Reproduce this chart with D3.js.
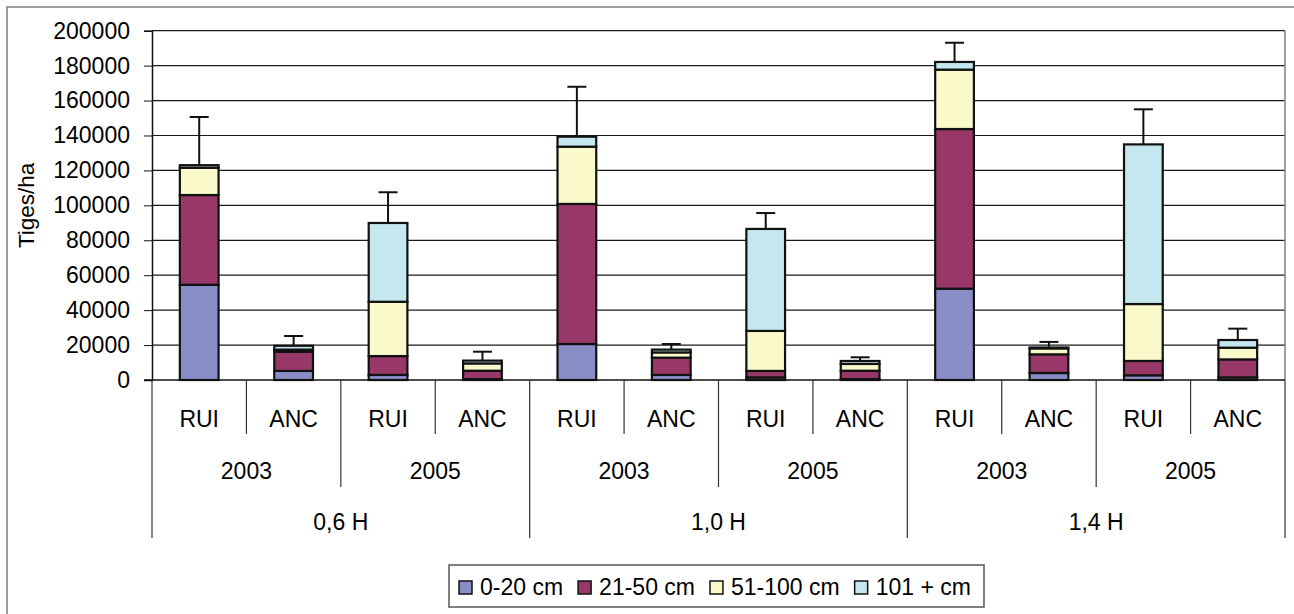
<!DOCTYPE html>
<html>
  <head>
    <meta charset="UTF-8">
    <title>Tiges/ha</title>
    <script src="https://d3js.org/d3.v7.min.js"></script>
    <style>
      body { margin: 0; background: #fff; }
      text { font-family: "Liberation Sans", Arial, sans-serif; fill: #000; }
    </style>
  </head>

  <body>
    <div class="chart"></div>

    <script type="application/javascript">
      // data
      const groups = ["0,6 H", "1,0 H", "1,4 H"];
      const years = ["2003", "2005"];
      const types = ["RUI", "ANC"];
      const seriesNames = ["0-20 cm", "21-50 cm", "51-100 cm", "101 + cm"];
      const s0_20   = [54500,  5200,  2900,  500, 20600, 2900,  1500,  500, 52300,  4000,  2700,  1500];
      const s21_50  = [51400, 11000, 10800, 4800, 80200, 9900,  3700, 4800, 91400, 10700,  8200, 10300];
      const s51_100 = [15600,  1200, 31100, 4200, 32800, 3000, 22900, 3900, 34000,  3400, 32600,  6700];
      const s101    = [ 1500,  2200, 45100, 1600,  5700, 1600, 58400, 1700,  4400,   500, 91400,  4400];
      const errors  = [27600,  5600, 17600, 5100, 28600, 3200,  9100, 2100, 11000,  3200, 20100,  6500];
      const yTicks = [0, 20000, 40000, 60000, 80000, 100000, 120000, 140000, 160000, 180000, 200000];
      const colors = ["#8a8ec6", "#973868", "#faf9ca", "#c4e7f0"];

      const W = 1294, H = 614;
      const plotL = 152, plotR = 1285, plotT = 30.7, plotB = 380;
      const fs = "23px";

      // one category per bar, built from the three levels
      const categories = [];
      groups.forEach(g => years.forEach(yr => types.forEach(t => categories.push({g, yr, t}))));
      const catIdx = categories.map((d, i) => i);

      const svg = d3.select(".chart").append("svg")
              .attr("width", W)
              .attr("height", H);

      // outer frame
      svg.append("rect")
              .attr("x", 7).attr("y", 7)
              .attr("width", 1300).attr("height", 640)
              .attr("fill", "none")
              .attr("stroke", "#808080")
              .attr("stroke-width", 1.5);

      const x = d3.scaleBand().domain(catIdx).range([plotL, plotR]).padding(0);
      const y = d3.scaleLinear().domain([0, 200000]).range([plotB, plotT]);
      const barW = x.bandwidth() * 0.41;

      // gridlines
      svg.append("g")
              .selectAll("line")
              .data(yTicks.slice(1))
              .join("line")
              .attr("x1", plotL).attr("x2", plotR)
              .attr("y1", d => y(d)).attr("y2", d => y(d))
              .attr("stroke", "#1a1a1a")
              .attr("stroke-width", 1.2);

      // plot border right side
      svg.append("line")
              .attr("x1", plotR).attr("x2", plotR)
              .attr("y1", plotT).attr("y2", plotB)
              .attr("stroke", "#808080")
              .attr("stroke-width", 1.5);

      // stacked bars
      const table = catIdx.map(i => ({i, a: s0_20[i], b: s21_50[i], c: s51_100[i], d: s101[i]}));
      const stack = d3.stack().keys(["a", "b", "c", "d"])(table);

      // error bars (drawn under the bars)
      const errG = svg.append("g");
      catIdx.forEach(i => {
        const total = s0_20[i] + s21_50[i] + s51_100[i] + s101[i];
        const cx = x(i) + x.bandwidth() / 2;
        errG.append("line")
                .attr("x1", cx).attr("x2", cx)
                .attr("y1", y(total)).attr("y2", y(total + errors[i]))
                .attr("stroke", "#111").attr("stroke-width", 2);
        errG.append("line")
                .attr("x1", cx - 9.5).attr("x2", cx + 9.5)
                .attr("y1", y(total + errors[i])).attr("y2", y(total + errors[i]))
                .attr("stroke", "#111").attr("stroke-width", 2);
      });

      svg.append("g")
              .selectAll("g")
              .data(stack)
              .join("g")
              .attr("fill", (d, k) => colors[k])
              .selectAll("rect")
              .data(d => d)
              .join("rect")
              .attr("x", d => x(d.data.i) + (x.bandwidth() - barW) / 2)
              .attr("width", barW)
              .attr("y", d => y(d[1]))
              .attr("height", d => y(d[0]) - y(d[1]))
              .attr("stroke", "#111")
              .attr("stroke-width", 2.2);

      // y axis
      const yAxis = d3.axisLeft(y)
              .tickValues(yTicks)
              .tickFormat(d3.format("d"))
              .tickSize(8)
              .tickPadding(14);
      const yG = svg.append("g")
              .attr("transform", `translate(${plotL},0)`)
              .call(yAxis);
      yG.select(".domain").attr("stroke", "#111").attr("stroke-width", 1.5);
      yG.selectAll(".tick line").attr("stroke", "#111");
      yG.selectAll(".tick text")
              .style("font-size", fs)
              .attr("font-family", null);

      svg.append("text")
              .attr("transform", `translate(34,${(plotT + plotB) / 2}) rotate(-90)`)
              .attr("text-anchor", "middle")
              .style("font-size", "22.5px")
              .text("Tiges/ha");

      // x axis: baseline and multi-level labels
      svg.append("line")
              .attr("x1", plotL - 8).attr("x2", plotR)
              .attr("y1", plotB).attr("y2", plotB)
              .attr("stroke", "#111").attr("stroke-width", 1.5);

      const xG = svg.append("g");
      const sep = (xx, y2) => xG.append("line")
              .attr("x1", xx).attr("x2", xx)
              .attr("y1", plotB).attr("y2", y2)
              .attr("stroke", "#333").attr("stroke-width", 1.2);

      const n = categories.length;
      const perGroup = years.length * types.length;
      for (let i = 0; i <= n; i++) {
        const xx = i < n ? x(i) : x(n - 1) + x.bandwidth();
        if (i % perGroup === 0) sep(xx, 538);
        else if (i % types.length === 0) sep(xx, 487);
        else sep(xx, 434);
      }

      xG.selectAll("text.t")
              .data(categories)
              .join("text")
              .attr("class", "t")
              .attr("x", (d, i) => x(i) + x.bandwidth() / 2)
              .attr("y", 427)
              .attr("text-anchor", "middle")
              .style("font-size", fs)
              .text(d => d.t);

      const yearCells = [];
      for (let i = 0; i < n; i += types.length) yearCells.push({i, label: categories[i].yr});
      xG.selectAll("text.yr")
              .data(yearCells)
              .join("text")
              .attr("class", "yr")
              .attr("x", d => x(d.i) + x.bandwidth() * types.length / 2)
              .attr("y", 479)
              .attr("text-anchor", "middle")
              .style("font-size", fs)
              .text(d => d.label);

      xG.selectAll("text.g")
              .data(groups)
              .join("text")
              .attr("class", "g")
              .attr("x", (d, k) => x(k * perGroup) + x.bandwidth() * perGroup / 2)
              .attr("y", 530)
              .attr("text-anchor", "middle")
              .style("font-size", fs)
              .text(d => d);

      // legend
      const legend = svg.append("g");
      legend.append("rect")
              .attr("x", 449).attr("y", 565)
              .attr("width", 535).attr("height", 42)
              .attr("fill", "#fff")
              .attr("stroke", "#555")
              .attr("stroke-width", 1.5);
      let lx = 459;
      seriesNames.forEach((name, k) => {
        legend.append("rect")
                .attr("x", lx).attr("y", 581)
                .attr("width", 13).attr("height", 13)
                .attr("fill", colors[k])
                .attr("stroke", "#111")
                .attr("stroke-width", 1.5);
        const t = legend.append("text")
                .attr("x", lx + 21)
                .attr("y", 595)
                .style("font-size", fs)
                .text(name);
        lx += 21 + t.node().getComputedTextLength() + 15;
      });
    </script>
  </body>

</html>
